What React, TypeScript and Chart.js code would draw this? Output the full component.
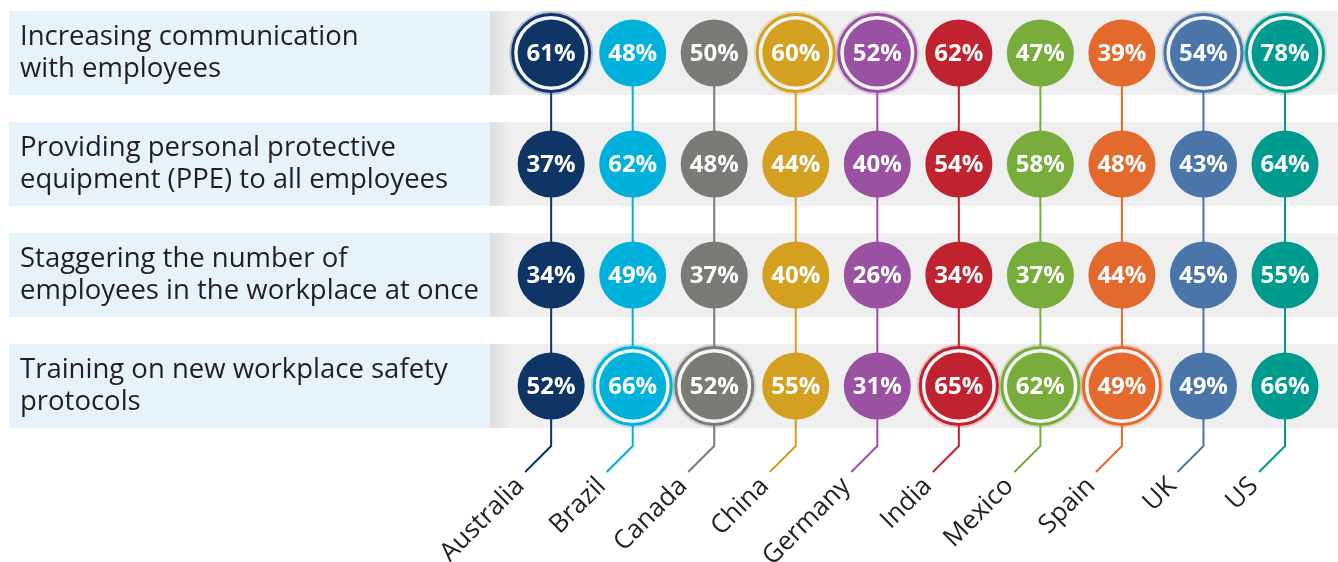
import React, { useEffect, useRef } from 'react';
import { Chart, registerables } from 'chart.js';
Chart.register(...registerables);

const countries = ['Australia', 'Brazil', 'Canada', 'China', 'Germany', 'India', 'Mexico', 'Spain', 'UK', 'US'];
const countryColors = ['#0f3566', '#00b1dc', '#7a7b77', '#d3a01f', '#9a51a2', '#c1222f', '#78ad3b', '#e4692d', '#4a75a8', '#009b8f'];
const measureLabels = [
  ['Increasing communication', 'with employees'],
  ['Providing personal protective', 'equipment (PPE) to all employees'],
  ['Staggering the number of', 'employees in the workplace at once'],
  ['Training on new workplace safety', 'protocols'],
];
const communication = [61, 48, 50, 60, 52, 62, 47, 39, 54, 78];
const ppe = [37, 62, 48, 44, 40, 54, 58, 48, 43, 64];
const staggering = [34, 49, 37, 40, 26, 34, 37, 44, 45, 55];
const training = [52, 66, 52, 55, 31, 65, 62, 49, 49, 66];
const rows = [communication, ppe, staggering, training];

const FONT = '"Open Sans", "DejaVu Sans", sans-serif';

function hexA(hex: string, a: number) {
  const n = parseInt(hex.slice(1), 16);
  return `rgba(${(n >> 16) & 255},${(n >> 8) & 255},${n & 255},${a})`;
}

export default function App() {
  const ref = useRef<HTMLCanvasElement>(null);
  useEffect(() => {
    const canvas = ref.current!;
    const all: any[] = [];
    rows.forEach((vals, r) => vals.forEach((v, c) => all.push({ x: c, y: r, v, c })));
    const best: any[] = [];
    countries.forEach((_, c) => {
      let br = 0;
      rows.forEach((vals, r) => { if (vals[c] > rows[br][c]) br = r; });
      best.push({ x: c, y: br, v: rows[br][c], c });
    });

    const deco = {
      id: 'deco',
      beforeDraw(chart: any) {
        const { ctx, chartArea } = chart;
        const ys = chart.scales.y;
        ctx.save();
        rows.forEach((_, r) => {
          const yc = ys.getPixelForValue(r);
          const top = yc - 42, h = 84;
          ctx.fillStyle = '#e6f3fa';
          ctx.fillRect(9, top, chartArea.left - 9, h);
          ctx.fillStyle = '#efefef';
          ctx.fillRect(chartArea.left, top, chartArea.right - chartArea.left, h);
          const g = ctx.createLinearGradient(chartArea.left, 0, chartArea.left + 22, 0);
          g.addColorStop(0, 'rgba(0,0,0,0.07)');
          g.addColorStop(1, 'rgba(0,0,0,0)');
          ctx.fillStyle = g;
          ctx.fillRect(chartArea.left, top, 22, h);
          ctx.fillStyle = '#231f20';
          ctx.font = `500 27.5px ${FONT}`;
          ctx.textAlign = 'left';
          ctx.textBaseline = 'middle';
          measureLabels[r].forEach((t, i) => ctx.fillText(t, 20, yc - 16 + i * 32));
        });
        ctx.restore();
      },
      beforeDatasetsDraw(chart: any) {
        const { ctx, chartArea } = chart;
        const xs = chart.scales.x, ys = chart.scales.y;
        ctx.save();
        ctx.lineWidth = 2;
        countries.forEach((name, c) => {
          const x = xs.getPixelForValue(c);
          ctx.strokeStyle = countryColors[c];
          ctx.beginPath();
          ctx.moveTo(x, ys.getPixelForValue(0));
          ctx.lineTo(x, chartArea.bottom + 18);
          ctx.lineTo(x - 26, chartArea.bottom + 44);
          ctx.stroke();
          ctx.save();
          ctx.translate(x - 31, chartArea.bottom + 54);
          ctx.rotate(-Math.PI / 4);
          ctx.fillStyle = '#231f20';
          ctx.font = `400 26px ${FONT}`;
          ctx.textAlign = 'right';
          ctx.textBaseline = 'middle';
          ctx.fillText(name, 0, 0);
          ctx.restore();
        });
        ctx.restore();
      },
      afterDatasetsDraw(chart: any) {
        const { ctx } = chart;
        const meta = chart.getDatasetMeta(2);
        ctx.save();
        ctx.fillStyle = '#ffffff';
        ctx.font = `700 24px ${FONT}`;
        ctx.textAlign = 'center';
        ctx.textBaseline = 'middle';
        meta.data.forEach((el: any, i: number) => {
          ctx.fillText(all[i].v + '%', el.x, el.y + 1);
        });
        ctx.restore();
      },
    };

    const chart = new Chart(canvas, {
      type: 'scatter',
      data: {
        datasets: [
          {
            data: best,
            order: 3,
            pointRadius: 42,
            pointBackgroundColor: best.map((p) => hexA(countryColors[p.c], 0.25)),
            pointBorderWidth: 0,
            pointHoverRadius: 42,
          },
          {
            data: best,
            order: 2,
            pointRadius: 38.5,
            pointBackgroundColor: '#f5f5f5',
            pointBorderColor: best.map((p) => countryColors[p.c]),
            pointBorderWidth: 3,
            pointHoverRadius: 38.5,
          },
          {
            data: all,
            order: 1,
            pointRadius: 33.5,
            pointBackgroundColor: all.map((p) => countryColors[p.c]),
            pointBorderWidth: 0,
            pointHoverRadius: 33.5,
          },
        ],
      },
      options: {
        responsive: false,
        animation: false,
        devicePixelRatio: 1,
        clip: false as any,
        layout: { autoPadding: false, padding: { left: 490, right: 0, top: 11, bottom: 134 } },
        plugins: { legend: { display: false }, tooltip: { enabled: false } },
        events: [],
        scales: {
          x: { type: 'linear', min: -0.75, max: 9.65, display: false },
          y: { type: 'linear', min: -0.378, max: 3.378, reverse: true, display: false },
        },
      },
      plugins: [deco],
    });
    return () => chart.destroy();
  }, []);
  return (
    <div style={{ position: 'absolute', left: 0, top: 0, width: 1338, height: 562, background: '#fff' }}>
      <canvas ref={ref} width={1338} height={562} />
    </div>
  );
}
